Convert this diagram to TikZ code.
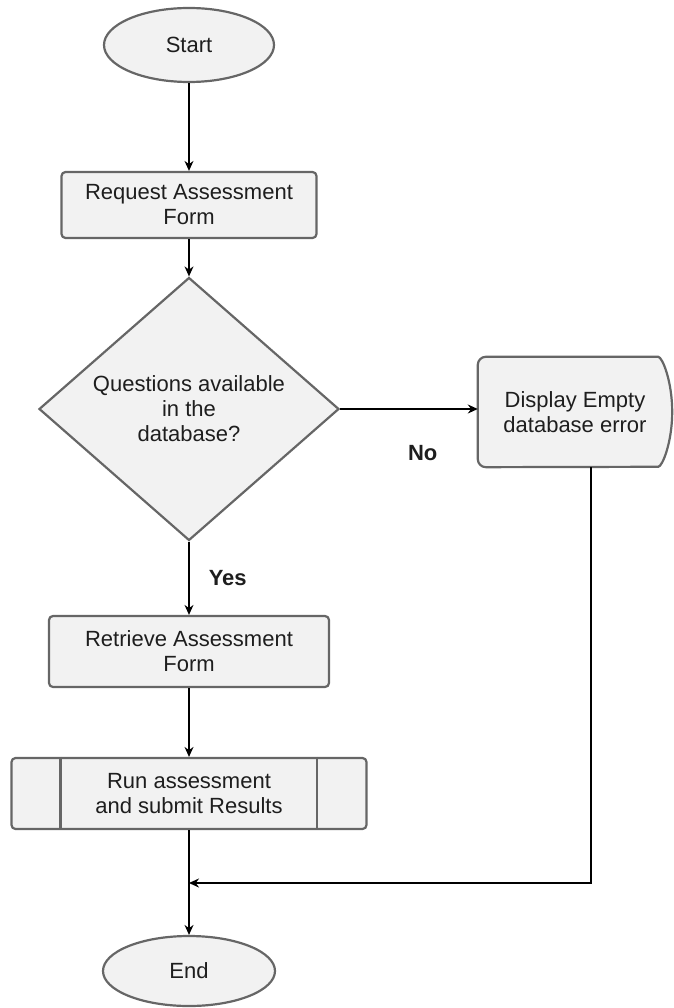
\documentclass[tikz,border=0pt]{standalone}
\usepackage{fontspec}
\setmainfont{Liberation Sans}
\usetikzlibrary{shapes.geometric, arrows.meta, positioning, backgrounds}
\definecolor{boxfill}{RGB}{242, 242, 242}
\definecolor{boxline}{RGB}{102, 102, 102}
\definecolor{textdark}{RGB}{30, 30, 30}

\begin{document}
\begin{tikzpicture}[
    x=1pt, y=-1pt,
    >={Stealth[length=10pt, width=9pt]},
    every node/.style={font=\fontsize{22}{25}\selectfont, text=textdark},
    shape base/.style={draw=boxline, fill=boxfill, line width=2.2pt, align=center, inner sep=0pt},
    terminal/.style={shape base, ellipse, minimum width=170pt, minimum height=74pt},
    process box/.style={shape base, rectangle, rounded corners=4pt},
    decision box/.style={shape base, diamond, aspect=1.14, minimum width=300pt, minimum height=263pt},
    flow/.style={->, line width=1.5pt, black},
    flow label/.style={font=\fontsize{22}{25}\selectfont\bfseries, inner sep=0pt}
]
\useasboundingbox (0,0) rectangle (673,1008);

% Main column
\node[terminal] (start) at (189,45) {Start};
\node[process box, minimum width=255pt, minimum height=66pt] (request) at (189,205) {Request Assessment\\Form};
\node[decision box] (decision) at (189,409) {Questions available\\in the\\database?};
\node[process box, minimum width=280pt, minimum height=71pt] (retrieve) at (189,651.5) {Retrieve Assessment\\Form};
\node[process box, minimum width=355pt, minimum height=71pt] (run) at (189,793.5) {Run assessment\\and submit Results};
\node[terminal, minimum width=172pt, minimum height=70pt] (end) at (189,971) {End};

% Error branch
\node[align=center, minimum width=194pt, minimum height=110pt, inner sep=0pt] (display) at (575,412) {Display Empty\\database error};
\begin{scope}[on background layer]
\draw[shape base, rounded corners=8pt] ([xshift=-22pt]display.north east)
    arc[start angle=90, end angle=-90, x radius=22pt, y radius=55pt]
    -- (display.south west) -- (display.north west) -- cycle;
\end{scope}

% Side bars of the run box
\draw[boxline, line width=2.2pt] ([xshift=50pt]run.north west) -- ([xshift=50pt]run.south west);
\draw[boxline, line width=2.2pt] ([xshift=-51pt]run.north east) -- ([xshift=-51pt]run.south east);

% Connectors
\draw[flow] (start) -- (request);
\draw[flow] (request) -- (decision);
\draw[flow] (decision.east) -- (decision.east -| display.west) node[flow label, pos=0.6, below=36pt] {No};
\draw[flow] (decision) -- (retrieve) node[flow label, midway, right=19pt] {Yes};
\draw[flow] (retrieve) -- (run);
\draw[flow] (run) -- (end);

\coordinate (merge) at (189,883);
\draw[flow] ([xshift=16pt]display.south) |- (merge);

\end{tikzpicture}
\end{document}
